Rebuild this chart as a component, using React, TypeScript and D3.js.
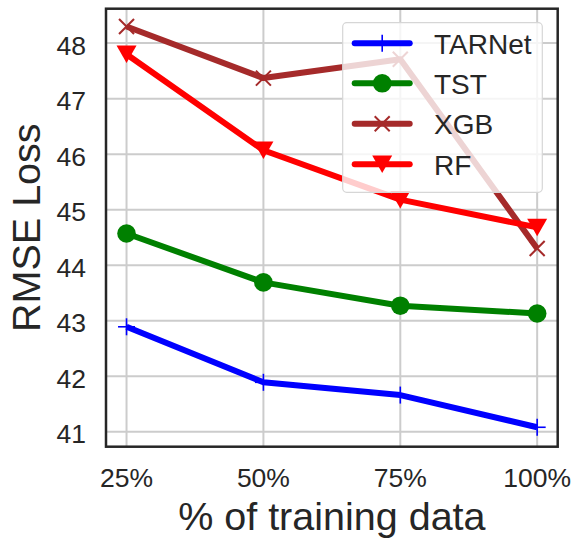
import React from "react";
import * as d3 from "d3";

const xValues = [25, 50, 75, 100];
const xTickLabels = ["25%", "50%", "75%", "100%"];
const yTicks = [41, 42, 43, 44, 45, 46, 47, 48];

const tarnet = [42.89, 41.89, 41.66, 41.08];
const tst = [44.57, 43.69, 43.27, 43.13];
const xgb = [48.3, 47.37, 47.71, 44.3];
const rf = [47.8, 46.07, 45.18, 44.68];

const seriesNames = ["TARNet", "TST", "XGB", "RF"];
const seriesColors = ["#0000ff", "#008000", "#a52a2a", "#ff0000"];
const seriesMarkers = ["plus", "circle", "x", "tri"];

const W = 573;
const H = 539;
const L = 106, R = 557.7, T = 8.7, B = 446.7;
const TEXT = "#262626";
const FONT = "'Liberation Sans', Arial, sans-serif";

function Marker({ type, x, y, color }: { type: string; x: number; y: number; color: string }) {
  if (type === "plus") {
    const s = 8.5;
    return (
      <g stroke={color} strokeWidth={1.6}>
        <line x1={x - s} y1={y} x2={x + s} y2={y} />
        <line x1={x} y1={y - s} x2={x} y2={y + s} />
      </g>
    );
  }
  if (type === "circle") {
    return <circle cx={x} cy={y} r={9.3} fill={color} />;
  }
  if (type === "x") {
    const s = 7.5;
    return (
      <g stroke={color} strokeWidth={2}>
        <line x1={x - s} y1={y - s} x2={x + s} y2={y + s} />
        <line x1={x - s} y1={y + s} x2={x + s} y2={y - s} />
      </g>
    );
  }
  const w = 10, h = 17.5;
  return (
    <path d={`M${x - w},${y - h * 0.5}L${x + w},${y - h * 0.5}L${x},${y + h * 0.5}Z`} fill={color} />
  );
}

export default function App() {
  const xs = d3.scaleLinear().domain([21.25, 103.75]).range([L, R]);
  const ys = d3.scaleLinear().domain([40.73, 48.62]).range([B, T]);
  const data = [tarnet, tst, xgb, rf];
  const line = d3
    .line<number>()
    .x((_, i) => xs(xValues[i]))
    .y((d) => ys(d));

  const legX = 342.7, legY = 22.7, legW = 199.6, legH = 169.6;
  const rowY = [43.3, 83.3, 123.8, 164.3];

  return (
    <svg
      width={W}
      height={H}
      style={{ position: "absolute", left: 0, top: 0, background: "#fff" }}
      fontFamily={FONT}
    >
      <rect x={0} y={0} width={W} height={H} fill="#fff" />
      {/* grid */}
      <g stroke="#cccccc" strokeWidth={2}>
        {yTicks.map((t) => (
          <line key={"gy" + t} x1={L} x2={R} y1={ys(t)} y2={ys(t)} />
        ))}
        {xValues.map((t) => (
          <line key={"gx" + t} x1={xs(t)} x2={xs(t)} y1={T} y2={B} />
        ))}
      </g>
      {/* lines */}
      {data.map((vals, si) => (
        <g key={seriesNames[si]}>
          <path d={line(vals) || ""} fill="none" stroke={seriesColors[si]} strokeWidth={6} strokeLinejoin="round" />
          {vals.map((v, i) => (
            <Marker key={i} type={seriesMarkers[si]} x={xs(xValues[i])} y={ys(v)} color={seriesColors[si]} />
          ))}
        </g>
      ))}
      {/* legend */}
      <rect x={legX} y={legY} width={legW} height={legH} rx={4} fill="#ffffff" fillOpacity={0.8} stroke="#d6d6d6" strokeWidth={1.2} />
      {seriesNames.map((n, i) => (
        <g key={"leg" + n}>
          <line x1={354.7} x2={409.7} y1={rowY[i]} y2={rowY[i]} stroke={seriesColors[i]} strokeWidth={6} strokeLinecap="round" />
          <Marker type={seriesMarkers[i]} x={382.2} y={rowY[i]} color={seriesColors[i]} />
          <text x={434} y={rowY[i] + 10.5} fontSize={28} fill={TEXT}>
            {n}
          </text>
        </g>
      ))}
      {/* spines */}
      <rect x={L} y={T} width={R - L} height={B - T} fill="none" stroke={TEXT} strokeWidth={2.5} />
      {/* y ticks */}
      {yTicks.map((t) => (
        <text key={"yt" + t} x={86} y={ys(t) + 11.5} fontSize={26.5} fill={TEXT} textAnchor="end">
          {t}
        </text>
      ))}
      {/* x ticks */}
      {xValues.map((t, i) => (
        <text key={"xt" + t} x={xs(t)} y={486.7} fontSize={26.5} fill={TEXT} textAnchor="middle">
          {xTickLabels[i]}
        </text>
      ))}
      <text x={(L + R) / 2} y={530} fontSize={39.5} fill={TEXT} textAnchor="middle">
        % of training data
      </text>
      <text
        transform={`translate(40,${(T + B) / 2}) rotate(-90)`}
        fontSize={39.5}
        fill={TEXT}
        textAnchor="middle"
      >
        RMSE Loss
      </text>
    </svg>
  );
}
